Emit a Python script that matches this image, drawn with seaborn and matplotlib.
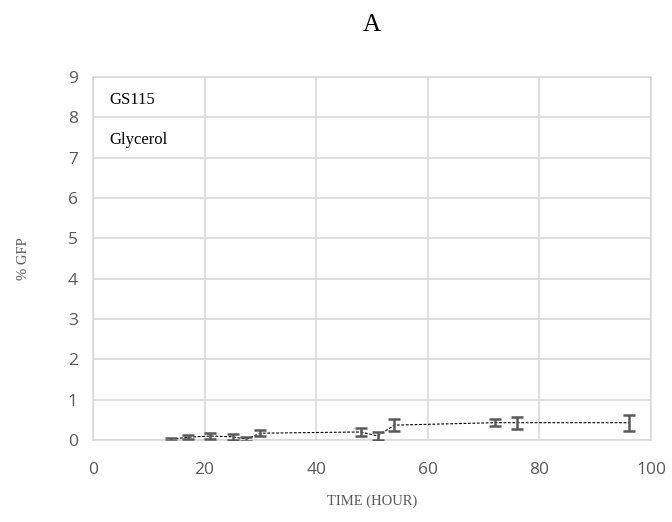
import matplotlib
matplotlib.use("Agg")
import matplotlib.pyplot as plt
import seaborn as sns
import pandas as pd

time_h = [14, 17, 21, 25, 27.5, 30, 48, 51, 54, 72, 76, 96]
gfp = [0.02, 0.07, 0.10, 0.08, 0.02, 0.17, 0.20, 0.10, 0.37, 0.43, 0.43, 0.43]
err = [0.04, 0.05, 0.08, 0.07, 0.05, 0.08, 0.10, 0.10, 0.15, 0.08, 0.15, 0.20]
x_ticks = [0, 20, 40, 60, 80, 100]
y_ticks = list(range(0, 10))

sns.set_theme(style="whitegrid")
df = pd.DataFrame({"t": time_h, "g": gfp, "e": err})

fig = plt.figure(figsize=(6.72, 5.22), dpi=100)
ax = fig.add_axes([0.1384, 0.157, 0.8304, 0.6955])

sns.lineplot(data=df, x="t", y="g", ax=ax, color="black", linestyle=(0, (2.5, 1.5)),
             linewidth=0.8, zorder=2)
ax.errorbar(df["t"], df["g"], yerr=df["e"], fmt="none", ecolor="#595959",
            elinewidth=1.8, capsize=4, capthick=1.8, zorder=3)

ax.set_xlim(0, 100)
ax.set_ylim(0, 9)
ax.set_xticks(x_ticks)
ax.set_yticks(y_ticks)
ax.grid(True, color="#d9d9d9", linewidth=1.2)
for s in ax.spines.values():
    s.set_visible(True)
    s.set_color("#d9d9d9")
    s.set_linewidth(1.2)
ax.set_facecolor("white")
ax.tick_params(axis="x", labelsize=12.5, colors="#595959", length=0, pad=16)
ax.tick_params(axis="y", labelsize=12.5, colors="#595959", length=0, pad=11)
for lab in ax.get_xticklabels() + ax.get_yticklabels():
    lab.set_family("Open Sans")
    lab.set_color("#595959")

ax.set_xlabel("TIME (HOUR)", family="Liberation Serif", fontsize=10.5, color="#595959", labelpad=12)
ax.set_ylabel("% GFP", family="Liberation Serif", fontsize=10.5, color="#595959", labelpad=27)
ax.set_title("A", family="Liberation Serif", fontsize=18, color="black", pad=33)

ax.text(0.03, 0.937, "GS115", transform=ax.transAxes, family="Liberation Serif",
        fontsize=12, color="black", va="center")
ax.text(0.03, 0.826, "Glycerol", transform=ax.transAxes, family="Liberation Serif",
        fontsize=12, color="black", va="center")

fig.savefig("out.png", dpi=100, facecolor="white")
